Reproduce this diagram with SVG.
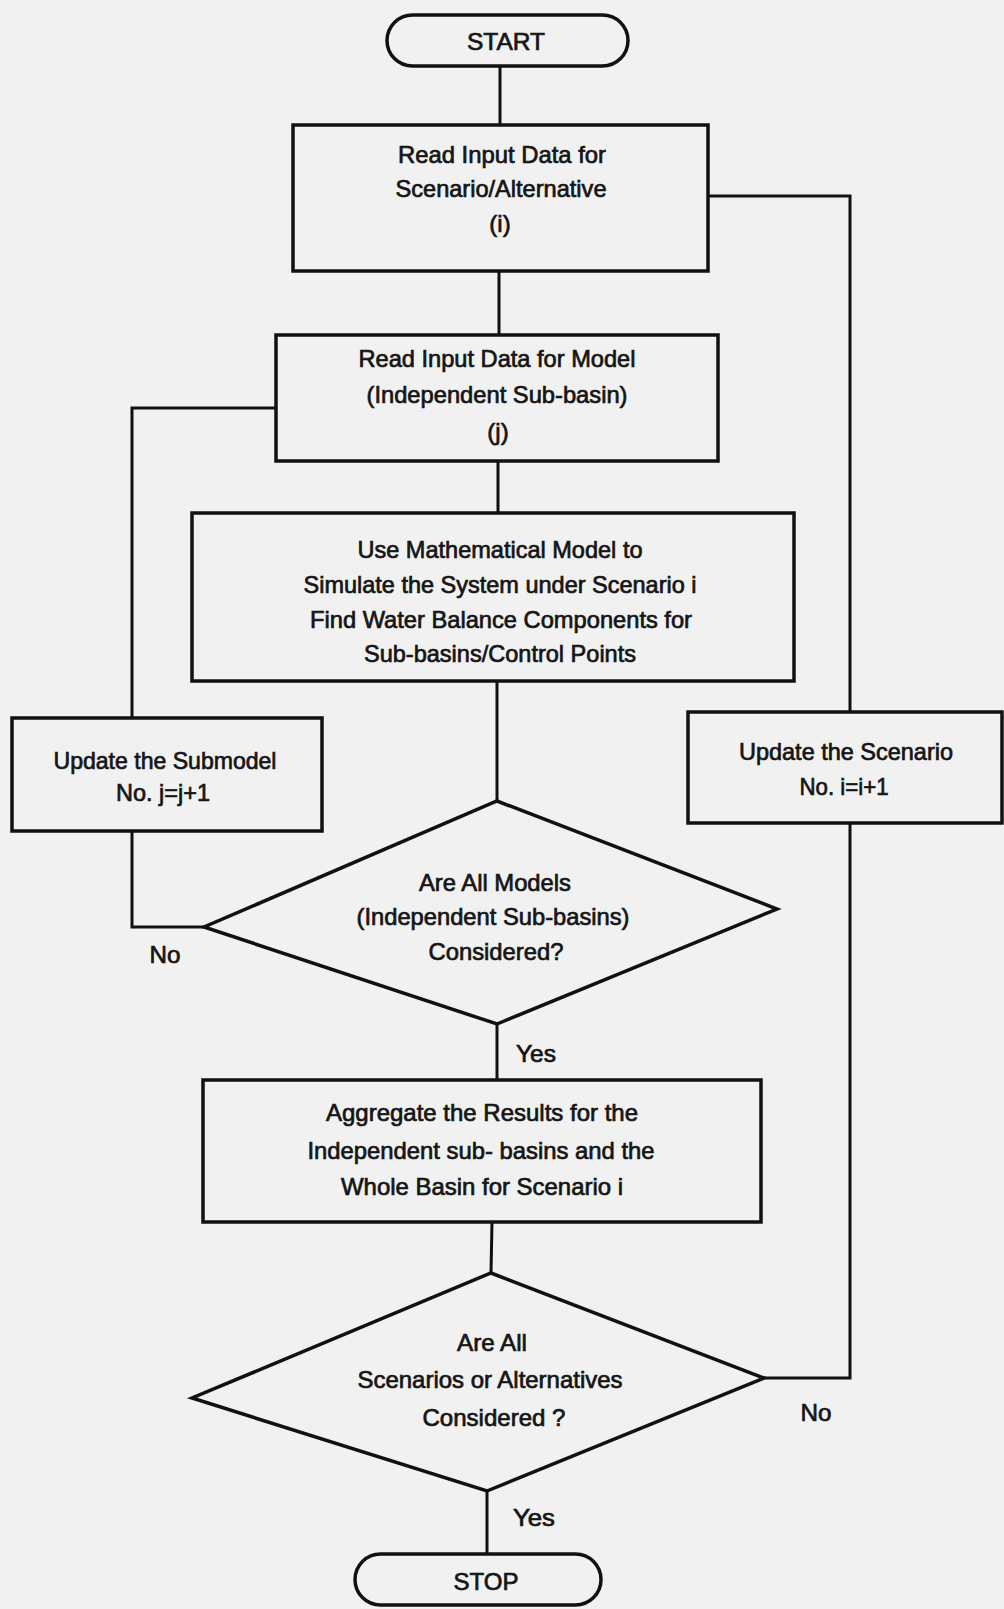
<svg xmlns="http://www.w3.org/2000/svg" width="1004" height="1609" viewBox="0 0 1004 1609">
<style>
.shape{fill:none;stroke:#111;stroke-width:3.5;stroke-linejoin:miter}
.conn{fill:none;stroke:#111;stroke-width:3}
text{font-family:"Liberation Sans Narrow","Liberation Sans",Arial,sans-serif;font-size:24px;fill:#151515;stroke:#151515;stroke-width:0.7;text-anchor:middle}
</style>
<rect x="0" y="0" width="1004" height="1609" fill="#f1f1f1"/>
<g id="connectors">
<line class="conn" x1="500" y1="66" x2="500" y2="125"/>
<line class="conn" x1="499" y1="271" x2="499" y2="335"/>
<line class="conn" x1="498" y1="461" x2="498" y2="513"/>
<line class="conn" x1="497" y1="681" x2="497" y2="801"/>
<line class="conn" x1="497" y1="1024" x2="497" y2="1080"/>
<line class="conn" x1="492" y1="1222" x2="491" y2="1273"/>
<line class="conn" x1="487" y1="1491" x2="487" y2="1554"/>
<polyline class="conn" points="204,927 132,927 132,831"/>
<polyline class="conn" points="132,718 132,408 276,408"/>
<polyline class="conn" points="764,1378 850,1378 850,823"/>
<polyline class="conn" points="850,712 850,196 708,196"/>
<text x="536" y="1062" textLength="40" lengthAdjust="spacingAndGlyphs">Yes</text>
<text x="165" y="963" textLength="31" lengthAdjust="spacingAndGlyphs">No</text>
<text x="534" y="1526" textLength="42" lengthAdjust="spacingAndGlyphs">Yes</text>
<text x="816" y="1421" textLength="31" lengthAdjust="spacingAndGlyphs">No</text>
</g>
<g id="start">
<rect class="shape" x="387" y="15" width="241" height="51" rx="25.5"/>
<text x="506" y="50" textLength="78" lengthAdjust="spacingAndGlyphs">START</text>
</g>
<g id="read-scenario">
<rect class="shape" x="293" y="125" width="415" height="146"/>
<text x="502" y="163" textLength="208" lengthAdjust="spacingAndGlyphs">Read Input Data for</text>
<text x="501" y="197" textLength="211" lengthAdjust="spacingAndGlyphs">Scenario/Alternative</text>
<text x="500" y="232">(i)</text>
</g>
<g id="read-model">
<rect class="shape" x="276" y="335" width="442" height="126"/>
<text x="497" y="367" textLength="277" lengthAdjust="spacingAndGlyphs">Read Input Data for Model</text>
<text x="497" y="403" textLength="261" lengthAdjust="spacingAndGlyphs">(Independent Sub-basin)</text>
<text x="498" y="440">(j)</text>
</g>
<g id="simulate">
<rect class="shape" x="192" y="513" width="602" height="168"/>
<text x="500" y="558" textLength="285" lengthAdjust="spacingAndGlyphs">Use Mathematical Model to</text>
<text x="500" y="593" textLength="393" lengthAdjust="spacingAndGlyphs">Simulate the System under Scenario i</text>
<text x="501" y="628" textLength="382" lengthAdjust="spacingAndGlyphs">Find Water Balance Components for</text>
<text x="500" y="662" textLength="272" lengthAdjust="spacingAndGlyphs">Sub-basins/Control Points</text>
</g>
<g id="update-submodel">
<rect class="shape" x="12" y="718" width="310" height="113"/>
<text x="165" y="769" textLength="223" lengthAdjust="spacingAndGlyphs">Update the Submodel</text>
<text x="163" y="801" textLength="94" lengthAdjust="spacingAndGlyphs">No. j=j+1</text>
</g>
<g id="update-scenario">
<rect class="shape" x="688" y="712" width="314" height="111"/>
<text x="846" y="760" textLength="214" lengthAdjust="spacingAndGlyphs">Update the Scenario</text>
<text x="844" y="795" textLength="89" lengthAdjust="spacingAndGlyphs">No. i=i+1</text>
</g>
<g id="models-considered">
<polygon class="shape" points="497,801 777,909 497,1024 204,927"/>
<text x="495" y="891" textLength="152" lengthAdjust="spacingAndGlyphs">Are All Models</text>
<text x="493" y="925" textLength="273" lengthAdjust="spacingAndGlyphs">(Independent Sub-basins)</text>
<text x="496" y="960" textLength="135" lengthAdjust="spacingAndGlyphs">Considered?</text>
</g>
<g id="aggregate">
<rect class="shape" x="203" y="1080" width="558" height="142"/>
<text x="482" y="1121" textLength="312" lengthAdjust="spacingAndGlyphs">Aggregate the Results for the</text>
<text x="481" y="1159" textLength="347" lengthAdjust="spacingAndGlyphs">Independent sub- basins and the</text>
<text x="482" y="1195" textLength="282" lengthAdjust="spacingAndGlyphs">Whole Basin for Scenario i</text>
</g>
<g id="scenarios-considered">
<polygon class="shape" points="491,1273 764,1378 487,1491 192,1398"/>
<text x="492" y="1351" textLength="70" lengthAdjust="spacingAndGlyphs">Are All</text>
<text x="490" y="1388" textLength="265" lengthAdjust="spacingAndGlyphs">Scenarios or Alternatives</text>
<text x="494" y="1426" textLength="143" lengthAdjust="spacingAndGlyphs">Considered ?</text>
</g>
<g id="stop">
<rect class="shape" x="355" y="1554" width="246" height="51" rx="25.5"/>
<text x="486" y="1590" textLength="65" lengthAdjust="spacingAndGlyphs">STOP</text>
</g>
</svg>
